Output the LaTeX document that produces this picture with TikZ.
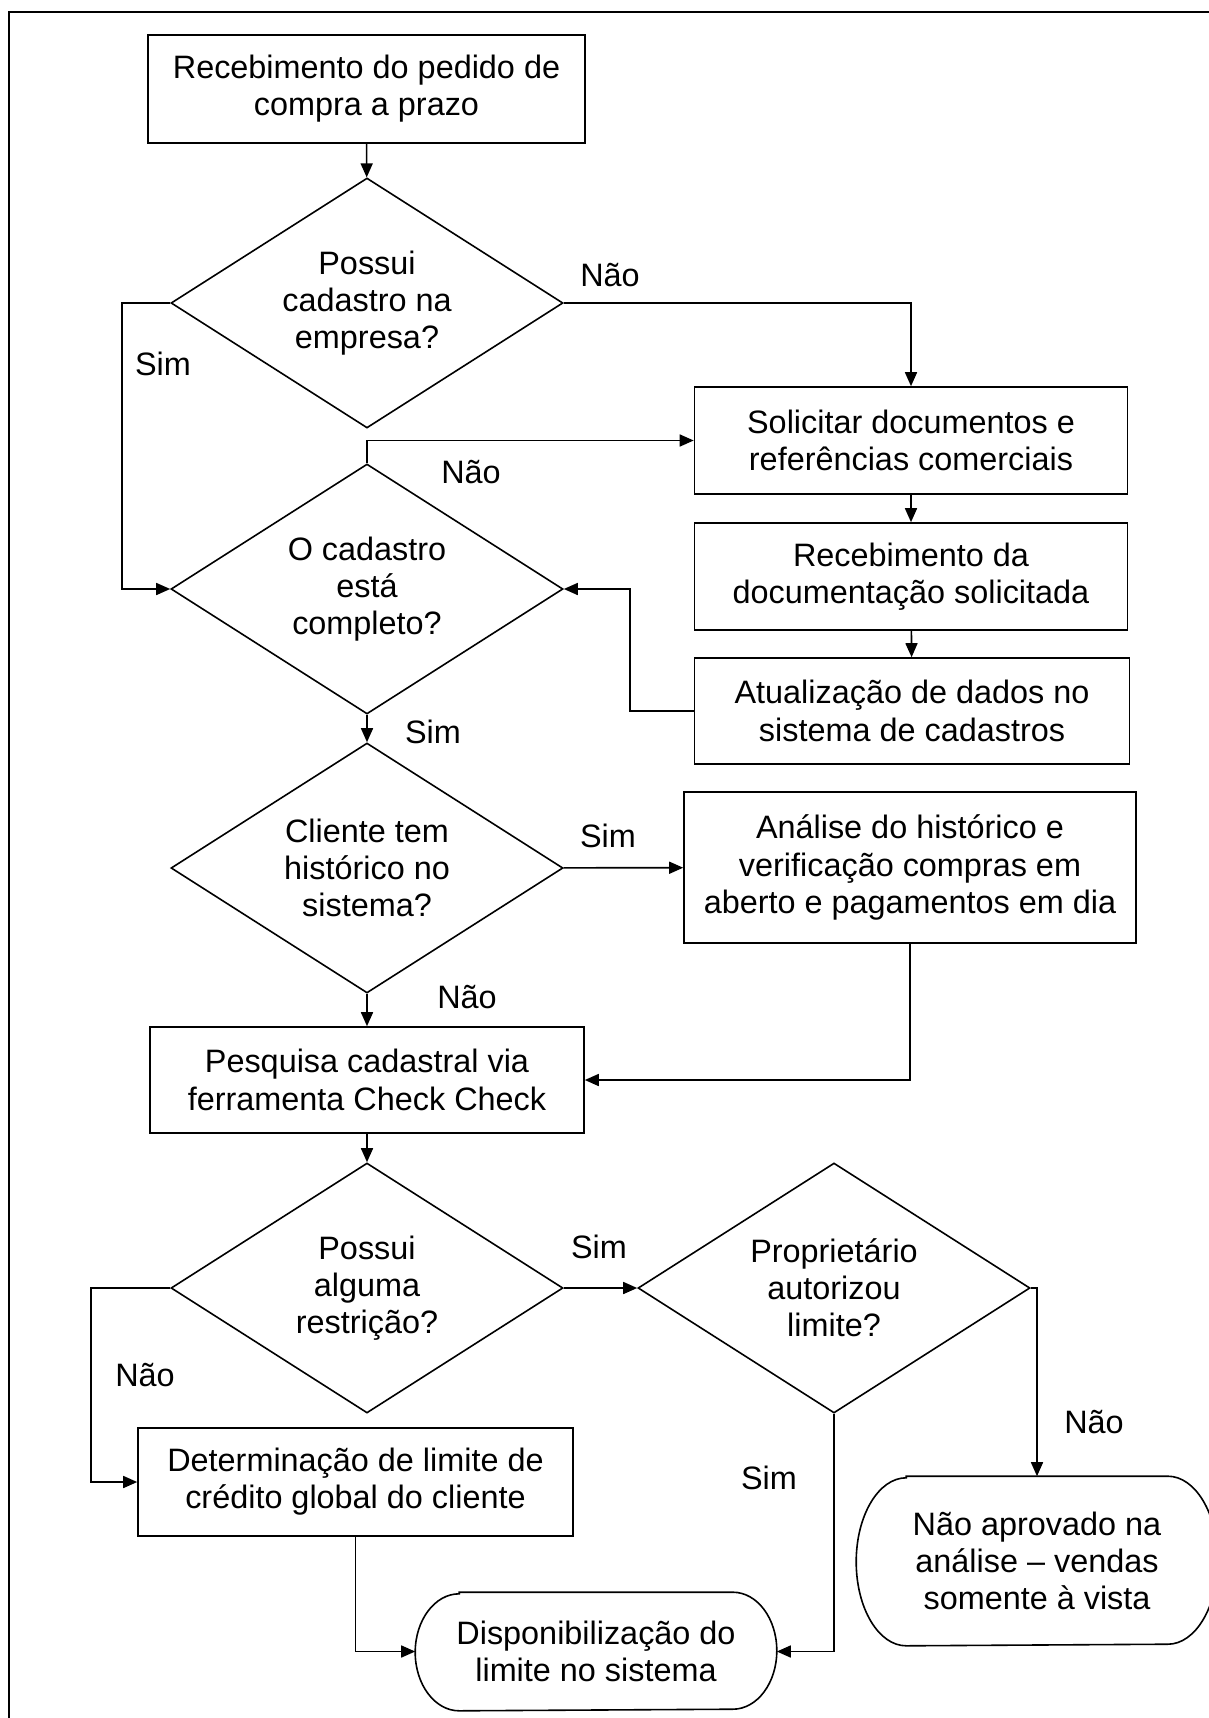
\documentclass[tikz,border=0pt]{standalone}
\usepackage{fontspec}
\setmainfont{Liberation Sans}
\usetikzlibrary{shapes.geometric,arrows.meta}

\begin{document}
\begin{tikzpicture}[x=0.5pt,y=-0.5pt,line width=0.8pt,
  font=\fontsize{16.2}{18.6}\selectfont,
  caixa/.style={draw,rectangle,align=center,inner sep=0pt},
  decisao/.style={draw,diamond,aspect=1.57,align=center,inner sep=0pt,
    minimum width=196pt,minimum height=125pt},
  terminal/.style={rectangle,align=center,inner sep=0pt},
  seta/.style={-{Triangle[length=7pt,width=6pt]}},
  rotulo/.style={inner sep=0pt}]
\useasboundingbox (0,0) rectangle (1209,1718);
\clip (0,0) rectangle (1209,1718);
\draw[line width=1.1pt] (9,1730) -- (9,12) -- (1230,12);

\node[caixa,minimum width=218.5pt,minimum height=54pt] (receb) at (366.5,89) {Recebimento do pedido de\\compra a prazo};
\node[decisao] (cad) at (367,303) {Possui\\cadastro na\\empresa?};
\node[caixa,minimum width=216.5pt,minimum height=53.5pt] (solic) at (911,440.5) {Solicitar documentos e\\referências comerciais};
\node[caixa,minimum width=216.5pt,minimum height=53.5pt] (docs) at (911,576.5) {Recebimento da\\documentação solicitada};
\node[caixa,minimum width=217.5pt,minimum height=53pt] (atual) at (912,711) {Atualização de dados no\\sistema de cadastros};
\node[decisao] (compl) at (367,589) {O cadastro\\está\\completo?};
\node[decisao] (hist) at (367,868) {Cliente tem\\histórico no\\sistema?};
\node[caixa,minimum width=226pt,minimum height=75.5pt] (anal) at (910,867.5) {Análise do histórico e\\verificação compras em\\aberto e pagamentos em dia};
\node[caixa,minimum width=217pt,minimum height=53pt] (pesq) at (367,1080) {Pesquisa cadastral via\\ferramenta Check Check};
\node[decisao] (restr) at (367,1288) {Possui\\alguma\\restrição?};
\node[decisao] (prop) at (834,1288) {Proprietário\\autorizou\\limite?};
\node[caixa,minimum width=217.5pt,minimum height=54pt] (limite) at (355.5,1482) {Determinação de limite de\\crédito global do cliente};
\node[terminal,minimum width=180pt,minimum height=58.5pt] (disp) at (596,1651.5) {Disponibilização do\\limite no sistema};
\node[terminal,minimum width=180pt,minimum height=84pt] (naoap) at (1037,1561) {Não aprovado na\\análise -- vendas\\somente à vista};

\draw ([xshift=22pt]disp.north west) -- ([xshift=-22pt]disp.north east)
  arc[start angle=90,end angle=-90,x radius=22pt,y radius=29.25pt]
  -- ([xshift=22pt]disp.south west)
  arc[start angle=270,end angle=90,x radius=22pt,y radius=29.25pt] -- cycle;
\draw ([xshift=25pt]naoap.north west) -- ([xshift=-25pt]naoap.north east)
  arc[start angle=90,end angle=-90,x radius=25pt,y radius=42pt]
  -- ([xshift=25pt]naoap.south west)
  arc[start angle=270,end angle=90,x radius=25pt,y radius=42pt] -- cycle;

\draw[seta] (receb) -- (cad);
\draw[seta] (cad.east) -| (solic.north);
\draw[seta] (cad.west) -- ++(-48,0) |- (compl.west);
\draw[seta] (compl.north) |- (solic.west);
\draw[seta] (solic) -- (docs);
\draw[seta] (docs) -- (atual);
\draw[seta] (atual.west) -- ++(-64,0) |- (compl.east);
\draw[seta] (compl) -- (hist);
\draw[seta] (hist) -- (anal);
\draw[seta] (hist) -- (pesq);
\draw[seta] (anal.south) |- (pesq.east);
\draw[seta] (pesq) -- (restr);
\draw[seta] (restr) -- (prop);
\draw[seta] (restr.west) -- ++(-79,0) |- (limite.west);
\draw[seta] (limite.south) |- (disp.west);
\draw[seta] (prop.south) |- (disp.east);
\draw[seta] (prop.east) -| (naoap.north);

\node[rotulo] (nao1) at (610,275) {Não};
\node[rotulo] (sim1) at (163,364) {Sim};
\node[rotulo] (nao2) at (471,472) {Não};
\node[rotulo] (sim2) at (433,732) {Sim};
\node[rotulo] (sim3) at (608,836) {Sim};
\node[rotulo] (nao3) at (467,997) {Não};
\node[rotulo] (sim4) at (599,1247) {Sim};
\node[rotulo] (nao4) at (145,1375) {Não};
\node[rotulo] (sim5) at (769,1478) {Sim};
\node[rotulo] (nao5) at (1094,1422) {Não};
\end{tikzpicture}
\end{document}
